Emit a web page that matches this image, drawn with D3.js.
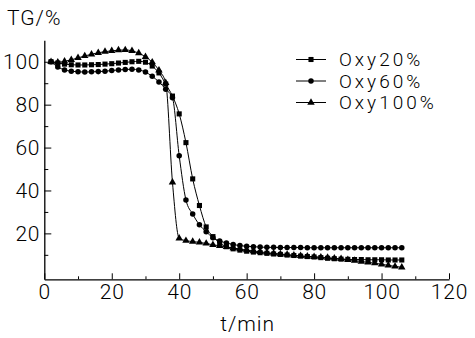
<!DOCTYPE html>
<html>
<head>
<meta charset="utf-8">
<script src="https://cdn.jsdelivr.net/npm/d3@7"></script>
<style>
  body { margin: 0; background: #fff; }
  text { font-family: Roboto, "DejaVu Sans", sans-serif; font-weight: 300; fill: #000; }
</style>
</head>
<body>
<div id="chart"></div>
<script>
// sampling times (min)
const time = [2, 4, 6, 8, 10, 12, 14, 16, 18, 20, 22, 24, 26, 28, 30, 32, 34, 36, 38, 40, 42, 44, 46, 48,
  50, 52, 54, 56, 58, 60, 62, 64, 66, 68, 70, 72, 74, 76, 78, 80, 82, 84, 86, 88, 90, 92, 94, 96, 98, 100, 102, 104, 106];

// TG (%) for each oxygen level
const oxy20 = [100.0, 99.4, 98.9, 98.6, 98.5, 98.5, 98.6, 98.7, 98.9, 99.1, 99.4, 99.7, 100.0, 100.2, 99.8, 98.0, 94.8, 89.6, 84.0, 75.7, 62.3, 45.4, 33.0, 23.0,
  18.5, 15.5, 13.8, 12.8, 12.2, 11.7, 11.3, 11.0, 10.7, 10.4, 10.2, 9.9, 9.7, 9.4, 9.2, 9.0, 8.7, 8.4, 8.2, 8.0, 7.9, 7.8, 7.8, 7.7, 7.7, 7.7, 7.6, 7.6, 7.6];
const oxy60 = [100.0, 97.6, 96.2, 95.6, 95.3, 95.2, 95.3, 95.4, 95.6, 95.9, 96.2, 96.4, 96.5, 96.2, 95.2, 93.2, 90.6, 87.2, 83.2, 56.2, 35.6, 29.0, 24.0, 20.8,
  18.0, 16.5, 15.5, 14.8, 14.3, 14.0, 13.8, 13.6, 13.5, 13.5, 13.4, 13.4, 13.4, 13.4, 13.3, 13.3, 13.3, 13.3, 13.3, 13.3, 13.3, 13.3, 13.3, 13.3, 13.3, 13.3, 13.3, 13.3, 13.3];
const oxy100 = [100.0, 99.8, 100.2, 100.9, 101.8, 102.7, 103.5, 104.2, 104.7, 105.1, 105.4, 105.5, 105.1, 104.0, 102.3, 99.8, 96.0, 90.2, 43.8, 17.7, 16.6, 16.2, 15.8, 15.3,
  14.7, 14.2, 13.7, 13.2, 12.7, 12.2, 11.8, 11.4, 11.0, 10.7, 10.4, 10.1, 9.8, 9.5, 9.3, 9.1, 8.9, 8.7, 8.4, 8.1, 7.7, 7.3, 6.9, 6.5, 6.1, 5.6, 5.1, 4.6, 4.2];

const seriesNames = ["Oxy20%", "Oxy60%", "Oxy100%"];
const xTicks = [0, 20, 40, 60, 80, 100, 120];
const xMinor = [10, 30, 50, 70, 90, 110];
const yTicks = [20, 40, 60, 80, 100];
const yMinor = [10, 30, 50, 70, 90];

const width = 475, height = 338;

let svg = d3.select("#chart")
  .append("svg")
    .attr("width", width)
    .attr("height", height);

let x = d3.scaleLinear().domain([0, 120]).range([44.3, 449]);
let y = d3.scaleLinear().domain([-1.4, 110]).range([279.3, 40.3]);

// x axis, ticks point inward
svg.append("g")
  .attr("transform", "translate(0," + y(-1.4) + ")")
  .call(d3.axisBottom(x).tickValues(xTicks).tickSizeInner(-6).tickSizeOuter(0))
  .call(g => g.selectAll("text").style("font-size", "21px").style("letter-spacing", "0.8px").attr("dy", "0.71em").attr("y", 5))
  .call(g => g.select(".domain").attr("stroke-width", 1.3));
svg.append("g")
  .attr("transform", "translate(0," + y(-1.4) + ")")
  .call(d3.axisBottom(x).tickValues(xMinor).tickSizeInner(-3).tickSizeOuter(0).tickFormat(""))
  .call(g => g.select(".domain").remove());

// y axis
svg.append("g")
  .attr("transform", "translate(" + x(0) + ",0)")
  .call(d3.axisLeft(y).tickValues(yTicks).tickSizeInner(-7).tickSizeOuter(0).tickPadding(4))
  .call(g => g.selectAll("text").style("font-size", "21px").style("letter-spacing", "0.8px"))
  .call(g => g.select(".domain").attr("stroke-width", 1.3));
svg.append("g")
  .attr("transform", "translate(" + x(0) + ",0)")
  .call(d3.axisLeft(y).tickValues(yMinor).tickSizeInner(-4).tickSizeOuter(0).tickFormat(""))
  .call(g => g.select(".domain").remove());

// axis titles
svg.append("text")
  .attr("x", 7).attr("y", 25)
  .style("font-size", "21px")
  .style("letter-spacing", "1px")
  .text("TG/%");
svg.append("text")
  .attr("x", x(60) + 1).attr("y", 331)
  .attr("text-anchor", "middle")
  .style("font-size", "21px")
  .style("letter-spacing", "1px")
  .text("t/min");

const shapes = [d3.symbolSquare, d3.symbolCircle, d3.symbolTriangle];
const sizes = [26, 24, 24];
const allSeries = [oxy20, oxy60, oxy100];

let line = d3.line()
  .x((d, i) => x(time[i]))
  .y(d => y(d))
  .curve(d3.curveMonotoneX);

allSeries.forEach((vals, k) => {
  svg.append("path")
    .datum(vals)
    .attr("d", line)
    .attr("fill", "none")
    .attr("stroke", "#000")
    .attr("stroke-width", 1);

  svg.selectAll(".m" + k)
    .data(vals)
    .enter()
    .append("path")
      .attr("class", "m" + k)
      .attr("transform", (d, i) => "translate(" + x(time[i]) + "," + y(d) + ")")
      .attr("d", d3.symbol().type(shapes[k]).size(sizes[k]))
      .attr("fill", "#000");
});

// legend
let legend = svg.append("g");
seriesNames.forEach((name, k) => {
  let ly = 59.5 + k * 21.5;
  legend.append("line")
    .attr("x1", 296).attr("x2", 326)
    .attr("y1", ly).attr("y2", ly)
    .attr("stroke", "#000");
  legend.append("path")
    .attr("transform", "translate(311," + ly + ")")
    .attr("d", d3.symbol().type(shapes[k]).size(sizes[k]))
    .attr("fill", "#000");
  legend.append("text")
    .attr("x", 339).attr("y", ly)
    .attr("dy", "0.36em")
    .style("font-size", "19px")
    .style("letter-spacing", "3px")
    .text(name);
});
</script>
</body>
</html>
